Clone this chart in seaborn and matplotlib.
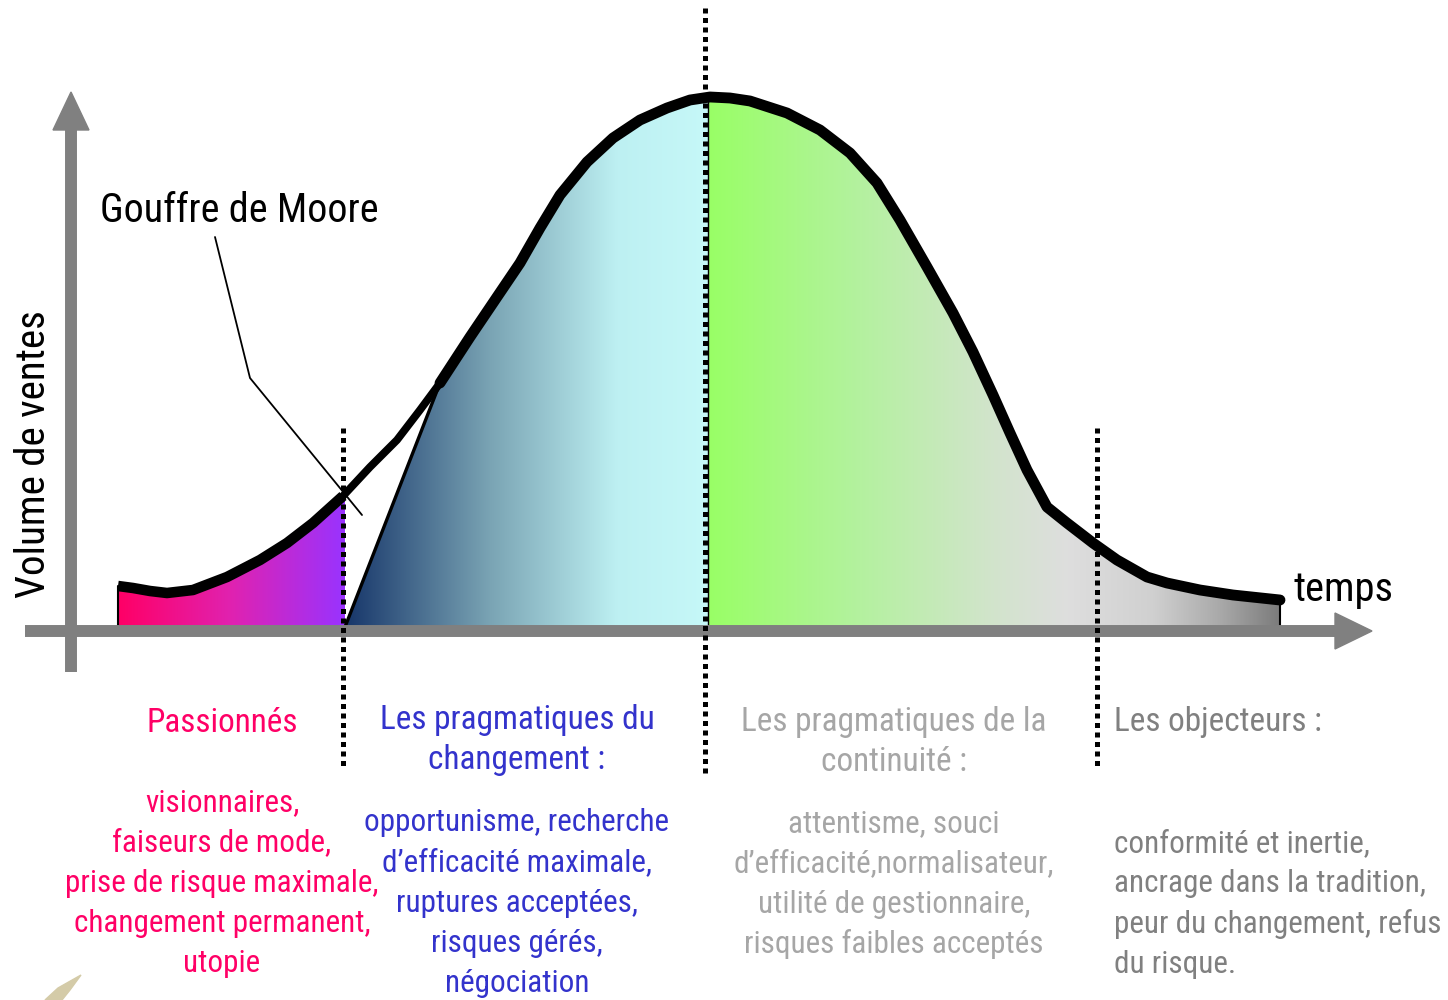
import numpy as np
import matplotlib
matplotlib.use("Agg")
import matplotlib.pyplot as plt
import seaborn as sns
from matplotlib import font_manager as fm
from matplotlib.colors import LinearSegmentedColormap
from matplotlib.patches import Polygon

# courbe (temps, volume de ventes au-dessus de l'axe)
curve_t = [118, 133, 150, 167, 193, 227, 260, 287, 313, 343, 370, 397, 420, 440,
           470, 497, 520, 540, 560, 587, 613, 640, 667, 690, 710, 730, 750, 787, 820,
           850, 877, 900, 927, 953, 973, 993, 1010, 1027, 1047, 1067, 1093, 1117,
           1147, 1167, 1200, 1233, 1280]
curve_v = [45, 43, 40, 38, 41, 54, 71, 88, 108, 135, 164, 191, 221, 248,
           294, 334, 368, 403, 436, 469, 493, 511, 523, 531, 534, 533, 530, 518, 501,
           478, 448, 411, 364, 318, 279, 236, 198, 161, 124, 108, 88, 71,
           54, 48, 41, 36, 31]

# limites des segments (temps)
bound_chasm = 345
chasm_top_t = 440
bound_peak = 708
bound_late = 1097

# textes
titre_gouffre = "Gouffre de Moore"
label_y = "Volume de ventes"
label_x = "temps"

pass_title = ["Passionnés"]
pass_lines = ["visionnaires,", "faiseurs de mode,", "prise de risque maximale,",
              "changement permanent,", "utopie"]
prag_title = ["Les pragmatiques du", "changement :"]
prag_lines = ["opportunisme, recherche", "d\u2019efficacité maximale,",
              "ruptures acceptées,", "risques gérés,", "négociation"]
cont_title = ["Les pragmatiques de la", "continuité :"]
cont_lines = ["attentisme, souci", "d\u2019efficacité,normalisateur,",
              "utilité de gestionnaire,", "risques faibles acceptés"]
obj_title = ["Les objecteurs :"]
obj_lines = ["conformité et inertie,", "ancrage dans la tradition,",
             "peur du changement, refus", "du risque."]

sns.set_theme(style="white")
installed = {f.name for f in fm.fontManager.ttflist}
narrow = [f for f in ["Liberation Sans Narrow", "Arial Narrow", "Arimo Narrow",
                      "Roboto Condensed", "Archivo Narrow", "PT Sans Narrow",
                      "Sofia Sans Semi Condensed"] if f in installed]
plt.rcParams["font.family"] = narrow[:1] + ["Liberation Sans", "DejaVu Sans"]

fig = plt.figure(figsize=(14.48, 10), dpi=100)
ax = fig.add_axes([0, 0, 1, 1])
ax.set_xlim(0, 1448)
BASE = 631
ax.set_ylim(BASE - 1000, BASE)
ax.axis("off")
renderer = fig.canvas.get_renderer()


def Y(py):
    return BASE - py


def fit_size(s, target, ref=20, rotation=0):
    tt = fig.text(0, 0, s, fontsize=ref, rotation=rotation)
    bb = tt.get_window_extent(renderer)
    tt.remove()
    size = bb.height if rotation else bb.width
    return ref * target / size


fs_title = fit_size(titre_gouffre, 278)
fs_temps = fit_size(label_x, 100)
fs_ylab = fit_size(label_y, 288, rotation=90)
fs_body = fit_size("prise de risque maximale,", 313)
fs_head = fit_size("Les pragmatiques du", 275)

t = np.array(curve_t, dtype=float)
v = np.array(curve_v, dtype=float)


def gradient_fill(poly_xy, x0, x1, colors):
    cmap = LinearSegmentedColormap.from_list("g", colors)
    patch = Polygon(poly_xy, closed=True, facecolor="none", edgecolor="none")
    ax.add_patch(patch)
    grad = np.linspace(0, 1, 256).reshape(1, -1)
    im = ax.imshow(grad, extent=[x0, x1, 0, 600], aspect="auto", cmap=cmap,
                   origin="lower", zorder=1, interpolation="bicubic")
    im.set_clip_path(patch)


v_chasm_top = np.interp(chasm_top_t, t, v)
v_peak = np.interp(bound_peak, t, v)

# segment passionnés
m = t <= bound_chasm
poly = [(t[0], 4)] + list(zip(t[m], v[m])) + [(bound_chasm, np.interp(bound_chasm, t, v)),
                                              (bound_chasm, 4)]
gradient_fill(poly, t[0], bound_chasm, ["#ff0066", "#e022b0", "#9933ff"])

# segment pragmatiques du changement (après le gouffre)
m = (t > chasm_top_t) & (t < bound_peak)
poly = [(bound_chasm, 4), (chasm_top_t, v_chasm_top)] + list(zip(t[m], v[m])) + \
       [(bound_peak, v_peak), (bound_peak, 4)]
gradient_fill(poly, bound_chasm, bound_peak,
              [(0, "#17366a"), (0.4, "#7aa4b4"), (0.75, "#bdf0f2"), (1, "#c6f8f8")])

# segments continuité + objecteurs
m = t > bound_peak
poly = [(bound_peak, 4), (bound_peak, v_peak)] + list(zip(t[m], v[m])) + [(t[-1], 4)]
cmap_cols = [(0, "#99ff66"), (0.25, "#b2f29c"), (0.5, "#d2e4cc"), (0.63, "#dedede"),
             (0.78, "#d0d0d0"), (0.9, "#a8a8a8"), (1, "#7c7c7c")]
gradient_fill(poly, bound_peak, t[-1], cmap_cols)

# courbe principale
sns.lineplot(x=t[t <= bound_chasm], y=v[t <= bound_chasm], color="black", lw=7.6,
             ax=ax, zorder=5, sort=False, solid_joinstyle="round", solid_capstyle="butt")
sns.lineplot(x=t[t >= chasm_top_t], y=v[t >= chasm_top_t], color="black", lw=7.8,
             ax=ax, zorder=5, sort=False, solid_joinstyle="round", solid_capstyle="round")
m = (t >= bound_chasm - 2) & (t <= chasm_top_t)
sns.lineplot(x=t[m], y=v[m], color="black", lw=5.6, ax=ax, zorder=5, sort=False,
             solid_joinstyle="round", solid_capstyle="round")
# bord du gouffre
ax.plot([bound_chasm, chasm_top_t], [4, v_chasm_top], color="black", lw=2.4, zorder=5)
ax.plot([t[0], t[0]], [4, v[0]], color="black", lw=1.5, zorder=5)
ax.plot([t[-1], t[-1]], [4, v[-1]], color="black", lw=1.5, zorder=5)
ax.plot([bound_peak, bound_peak], [4, v_peak], color="black", lw=1.0, zorder=5)

# axes fléchés
grey = "#808080"
ax.plot([25, 1340], [0, 0], color=grey, lw=8.6, solid_capstyle="butt", zorder=6)
ax.add_patch(Polygon([(1335, Y(613)), (1372, 0), (1335, Y(649))], closed=True,
                     color=grey, zorder=6))
ax.plot([71, 71], [Y(672), Y(126)], color=grey, lw=8.6, solid_capstyle="butt", zorder=6)
ax.add_patch(Polygon([(53, Y(130)), (71, Y(92)), (89, Y(130))], closed=True,
                     color=grey, zorder=6))

# lignes pointillées
for xb, top, bot in [(343, 428, 770), (705, 8, 775), (1097, 428, 770)]:
    ax.plot([xb, xb], [Y(top), Y(bot)], color="black", lw=3.6,
            linestyle=(0, (1, 0.9)), zorder=7)

# annotation gouffre
ax.text(100, Y(222), titre_gouffre, fontsize=fs_title, color="black", ha="left",
        va="baseline", zorder=8)
ax.plot([215, 250, 362], [Y(237), Y(378), Y(515)], color="black", lw=1.3, zorder=8)

ax.text(1293, Y(601), label_x, fontsize=fs_temps, color="black", ha="left", va="baseline")
ax.text(53, Y(454), label_y, fontsize=fs_ylab, color="black", rotation=90,
        ha="right", va="center")


def block(lines, x, y0, color, size, ha="center", step=40.3):
    for i, s in enumerate(lines):
        ax.text(x, Y(y0 + i * step), s, fontsize=size, color=color, ha=ha,
                va="baseline")


pink = "#ff0066"
blue = "#3333cc"
lgrey = "#a6a6a6"
dgrey = "#808080"
block(pass_title, 222, 732, pink, fs_head)
block(pass_lines, 222, 811, pink, fs_body)
block(prag_title, 517, 729, blue, fs_head)
block(prag_lines, 517, 831, blue, fs_body)
block(cont_title, 894, 731, lgrey, fs_head)
block(cont_lines, 894, 832, lgrey, fs_body)
block(obj_title, 1114, 731, dgrey, fs_head, ha="left")
block(obj_lines, 1114, 852, dgrey, fs_body, ha="left")

# petite feuille décorative en bas à gauche
ax.add_patch(Polygon([(45, Y(1000)), (58, Y(988)), (81, Y(975)), (70, Y(990)),
                      (62, Y(1000))], closed=True, color="#d4cba8", zorder=2))

ax.set_xlim(0, 1448)
ax.set_ylim(BASE - 1000, BASE)
fig.savefig("out.png", dpi=100, facecolor="white")
